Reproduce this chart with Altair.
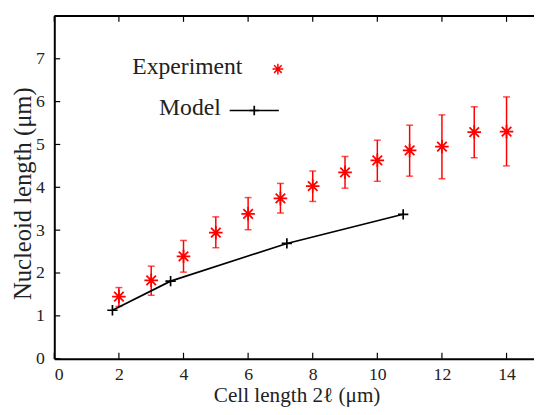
import altair as alt
import pandas as pd

# Experiment data (cell length, nucleoid length, error bar low/high)
exp_x = [2, 3, 4, 5, 6, 7, 8, 9, 10, 11, 12, 13, 14]
exp_y = [1.45, 1.83, 2.39, 2.94, 3.38, 3.74, 4.03, 4.35, 4.63, 4.86, 4.95, 5.29, 5.30]
exp_lo = [1.22, 1.48, 2.02, 2.59, 3.01, 3.40, 3.67, 3.98, 4.14, 4.26, 4.20, 4.69, 4.50]
exp_hi = [1.66, 2.16, 2.76, 3.31, 3.76, 4.09, 4.38, 4.72, 5.10, 5.45, 5.69, 5.88, 6.11]

# Model data
model_x = [1.8, 3.6, 7.2, 10.8]
model_y = [1.13, 1.81, 2.69, 3.37]

x_ticks = [0, 2, 4, 6, 8, 10, 12, 14]
y_ticks = [0, 1, 2, 3, 4, 5, 6, 7]

exp_df = pd.DataFrame({"x": exp_x, "y": exp_y, "lo": exp_lo, "hi": exp_hi})
model_df = pd.DataFrame({"x": model_x, "y": model_y})
xt_df = pd.DataFrame({"v": x_ticks})
yt_df = pd.DataFrame({"v": y_ticks})
one = pd.DataFrame({"d": [0]})

FONT = "Liberation Serif"
TXT = "#222222"
STAR = "M-1,0L1,0M0,-1L0,1M-0.7,-0.7L0.7,0.7M-0.7,0.7L0.7,-0.7"
PLUS = "M-1,0L1,0M0,-1L0,1"

xs = alt.Scale(domain=[0, 14.85], nice=False, zero=False)
ys = alt.Scale(domain=[0, 8], nice=False)

x_axis = alt.Axis(values=x_ticks, ticks=False, grid=False, domainColor="black", domainWidth=2,
                  labelFont=FONT, labelFontSize=18, labelColor=TXT, labelPadding=7,
                  titleFont=FONT, titleFontSize=21.5, titleFontWeight="normal", titleColor=TXT,
                  titleX=246, titleY=43, titleAlign="center", titleBaseline="alphabetic")
y_axis = alt.Axis(values=y_ticks, ticks=False, grid=False, domainColor="black", domainWidth=2,
                  labelFont=FONT, labelFontSize=18, labelColor=TXT, labelPadding=10,
                  titleFont=FONT, titleFontSize=25, titleFontWeight="normal", titleColor=TXT,
                  titleX=-24, titleY=180, titleAngle=270, titleAlign="center",
                  titleBaseline="alphabetic")

base_x = alt.X("x:Q", scale=xs, axis=x_axis, title="Cell length 2ℓ (μm)")
base_y = alt.Y("y:Q", scale=ys, axis=y_axis, title="Nucleoid length (μm)")

# top frame line
top_frame = alt.Chart(one).mark_rule(color="black", strokeWidth=2).encode(
    x=alt.value(0), x2=alt.value(487), y=alt.value(0))

# inward ticks
bottom_ticks = alt.Chart(xt_df).mark_rule(color="black", strokeWidth=1.2).encode(
    x=alt.X("v:Q", scale=xs), y=alt.value(342), y2=alt.value(348))
top_ticks = alt.Chart(xt_df).mark_rule(color="black", strokeWidth=1.2).encode(
    x=alt.X("v:Q", scale=xs), y=alt.value(0), y2=alt.value(6))
left_ticks = alt.Chart(yt_df).mark_rule(color="black", strokeWidth=1.2).encode(
    y=alt.Y("v:Q", scale=ys), x=alt.value(0), x2=alt.value(6))

err = alt.Chart(exp_df).mark_rule(color="#ff0000", strokeWidth=1.5).encode(
    x=base_x, y=alt.Y("lo:Q", scale=ys), y2="hi:Q")
cap_lo = alt.Chart(exp_df).mark_tick(color="#ff0000", orient="horizontal", size=7, thickness=1.5).encode(
    x=alt.X("x:Q", scale=xs), y=alt.Y("lo:Q", scale=ys))
cap_hi = alt.Chart(exp_df).mark_tick(color="#ff0000", orient="horizontal", size=7, thickness=1.5).encode(
    x=alt.X("x:Q", scale=xs), y=alt.Y("hi:Q", scale=ys))
stars = alt.Chart(exp_df).mark_point(shape=STAR, filled=False, stroke="#ff0000", strokeWidth=1.8,
                                     size=190, opacity=1).encode(
    x=alt.X("x:Q", scale=xs), y=base_y)

model_line = alt.Chart(model_df).mark_line(color="black", strokeWidth=1.7).encode(
    x=alt.X("x:Q", scale=xs), y=alt.Y("y:Q", scale=ys))
model_pts = alt.Chart(model_df).mark_point(shape=PLUS, filled=False, stroke="black", strokeWidth=1.7,
                                           size=110, opacity=1).encode(
    x=alt.X("x:Q", scale=xs), y=alt.Y("y:Q", scale=ys))

# legend
leg_exp_txt = alt.Chart(one).mark_text(text="Experiment", font=FONT, fontSize=24, color=TXT,
                                       align="right", baseline="alphabetic").encode(
    x=alt.value(191), y=alt.value(59))
leg_exp_pt = alt.Chart(one).mark_point(shape=STAR, filled=False, stroke="#ff0000", strokeWidth=1.5,
                                       size=120, opacity=1).encode(
    x=alt.value(227), y=alt.value(54))
leg_mod_txt = alt.Chart(one).mark_text(text="Model", font=FONT, fontSize=24, color=TXT,
                                       align="right", baseline="alphabetic").encode(
    x=alt.value(169), y=alt.value(101))
leg_mod_line = alt.Chart(one).mark_rule(color="black", strokeWidth=1.7).encode(
    x=alt.value(178), x2=alt.value(228), y=alt.value(96))
leg_mod_pt = alt.Chart(one).mark_point(shape=PLUS, filled=False, stroke="black", strokeWidth=1.7,
                                       size=90, opacity=1).encode(
    x=alt.value(203), y=alt.value(96))

chart = alt.layer(
    err, cap_lo, cap_hi, stars, model_line, model_pts,
    top_frame, bottom_ticks, top_ticks, left_ticks,
    leg_exp_txt, leg_exp_pt, leg_mod_txt, leg_mod_line, leg_mod_pt,
).properties(
    width=487, height=348,
    autosize=alt.AutoSizeParams(type="none"),
    padding={"left": 47, "top": 5, "right": 0, "bottom": 46},
).configure_view(stroke=None).configure(background="white")

chart.save("out.html", embed_options={"renderer": "svg", "actions": False})
